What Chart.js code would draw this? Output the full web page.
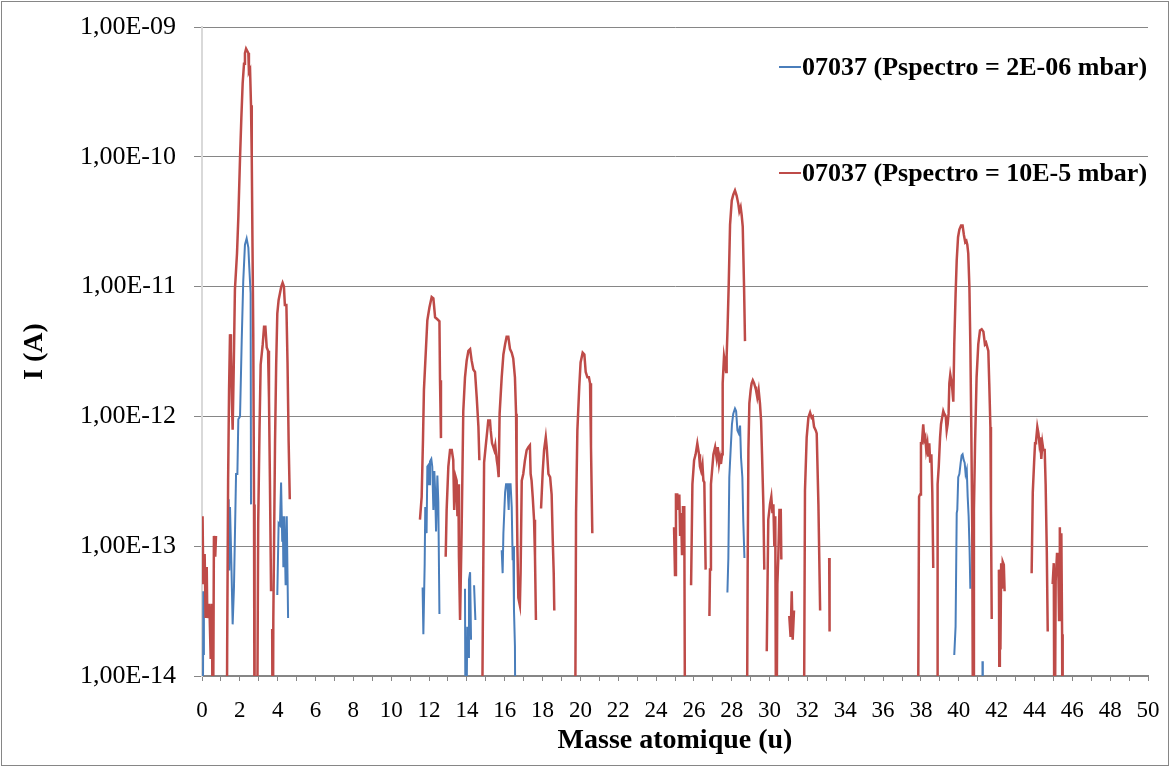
<!DOCTYPE html>
<html>
<head>
<meta charset="utf-8">
<script src="https://cdn.jsdelivr.net/npm/chart.js@4.4.1/dist/chart.umd.min.js"></script>
<style>
  html, body { margin:0; padding:0; background:#fff; }
  #wrap { width:1170px; height:767px; position:relative; }
</style>
</head>
<body>
<div id="wrap"><canvas id="spectre"></canvas></div>
<script>
// ═══════════════════════════════════════════════════════════
// Spectre de masse 07037 — deux pressions, échelle log
// ═══════════════════════════════════════════════════════════

const LABELS = ['07037 (Pspectro = 2E-06 mbar)', '07037 (Pspectro = 10E-5 mbar)'];
const DECADES = [1e-14, 1e-13, 1e-12, 1e-11, 1e-10, 1e-9];
const MASS_MIN = 0, MASS_MAX = 50;

// 1e-15 = sous l'axe (signal nul), null = pas de mesure
const blueMass = [
  0.03, 0.07, 0.10, 0.3,
  1.41, 1.44, 1.48, 1.55, 1.62, 1.69, 1.80, 1.87, 1.92, 2.01, 2.10, 2.18, 2.27, 2.36, 2.45, 2.50, 2.57, 2.59, 2.8,
  3.98, 4.05, 4.12, 4.18, 4.21, 4.24, 4.27, 4.30, 4.35, 4.42, 4.48, 4.55, 5.0,
  11.66, 11.70, 11.77, 11.80, 11.87, 11.91, 11.96, 12.00, 12.05, 12.12, 12.17, 12.23, 12.28, 12.33, 12.37, 12.44, 12.49, 12.55, 12.8,
  13.90, 13.94, 14.02, 14.08, 14.11, 14.17, 14.22, 14.3, 14.38, 14.45, 14.6,
  15.84, 15.89, 15.93, 16.02, 16.07, 16.14, 16.21, 16.24, 16.31, 16.37, 16.42, 16.45, 16.49, 16.54, 16.58, 17.0,
  27.77, 27.82, 27.87, 27.94, 28.01, 28.08, 28.17, 28.23, 28.30, 28.37, 28.44, 28.49, 28.56, 28.61, 28.67, 29.0,
  39.76, 39.83, 39.89, 39.92, 39.97, 40.03, 40.10, 40.15, 40.20, 40.26, 40.31, 40.36, 40.42, 40.47, 40.52, 40.57, 40.61, 40.9,
  41.25, 41.27
];
const blueCurrent = [
  1e-15, 4.5e-14, 1.45e-14, null,
  2.3e-13, 6.5e-14, 2.0e-13, 7.6e-14, 2.5e-14, 4.8e-14, 3.6e-13, 3.6e-13, 9.5e-13, 1.0e-12, 3.9e-12, 1.1e-11, 2.1e-11, 2.35e-11, 2.0e-11, 1.4e-11, 8.9e-12, 2.1e-13, null,
  4.2e-14, 1.5e-13, 1.45e-13, 3.1e-13, 3.1e-13, 1.1e-13, 1.7e-13, 6.9e-14, 1.7e-13, 5.0e-14, 1.7e-13, 2.8e-14, null,
  4.8e-14, 2.1e-14, 7.4e-14, 2.0e-13, 1.26e-13, 4.1e-13, 4.2e-13, 3.0e-13, 4.5e-13, 4.7e-13, 4.1e-13, 1.9e-13, 3.8e-13, 2.5e-13, 1.3e-13, 3.5e-13, 2.2e-13, 3.0e-14, null,
  4.7e-14, 1e-15, 2.4e-14, 1.4e-14, 5.5e-14, 6.3e-14, 1.9e-14, null, 5.0e-14, 2.7e-14, null,
  9.3e-14, 6.2e-14, 1.26e-13, 2.6e-13, 3.0e-13, 3.0e-13, 1.9e-13, 3.0e-13, 3.0e-13, 2.0e-13, 7.8e-14, 1.0e-13, 3.2e-14, 1.7e-14, 1e-15, null,
  4.4e-14, 8.1e-14, 3.4e-13, 5.5e-13, 8.7e-13, 1.05e-12, 1.15e-12, 1.1e-12, 7.8e-13, 7.4e-13, 8.5e-13, 4.8e-13, 3.4e-13, 1.55e-13, 8.1e-14, null,
  1.45e-14, 2.4e-14, 1.8e-13, 1.9e-13, 3.4e-13, 3.6e-13, 4.4e-13, 5.0e-13, 5.1e-13, 4.6e-13, 4.4e-13, 3.6e-13, 3.9e-13, 2.4e-13, 1.7e-13, 9.3e-14, 4.7e-14, null,
  1.3e-14, 1e-15
];

const redMass = [
  0.03, 0.07, 0.14, 0.19, 0.25, 0.28, 0.39, 0.46, 0.53, 0.57, 0.63, 0.70, 0.74, 0.9,
  1.30, 1.33, 1.38, 1.43, 1.48, 1.53, 1.58, 1.62, 1.68, 1.74, 1.85, 1.92, 2.01, 2.08, 2.15, 2.22, 2.27, 2.33, 2.40, 2.45, 2.48, 2.54, 2.59, 2.63, 2.67, 2.71, 2.75, 2.78,
  2.90, 2.97, 3.04, 3.10, 3.21, 3.28, 3.35, 3.42, 3.49, 3.54, 3.59, 3.65, 3.68, 3.71, 3.74,
  3.77, 3.86, 3.92, 3.98, 4.05, 4.12, 4.19, 4.26, 4.33, 4.38, 4.46, 4.52, 4.58, 4.64, 4.8,
  11.52, 11.61, 11.68, 11.73, 11.84, 11.91, 12.02, 12.14, 12.23, 12.32, 12.44, 12.55, 12.58, 12.63, 12.75,
  12.88, 12.93, 13.02, 13.11, 13.20, 13.28, 13.33, 13.41, 13.46, 13.50, 13.55, 13.58, 13.64, 13.66, 13.72, 13.81, 13.90, 13.99, 14.08, 14.17, 14.25, 14.34, 14.43, 14.52, 14.61, 14.66, 14.72,
  14.78, 14.84, 14.91, 15.01, 15.08, 15.13, 15.22, 15.26, 15.33, 15.40, 15.45, 15.50, 15.58, 15.63, 15.68, 15.73, 15.84, 15.93, 16.02, 16.10, 16.19, 16.28, 16.37, 16.45, 16.54, 16.60, 16.63, 16.67, 16.72,
  16.80, 16.84, 16.90, 16.98, 17.07, 17.16, 17.25, 17.33, 17.37, 17.42, 17.48, 17.55, 17.60, 17.65, 17.8,
  17.92, 18.01, 18.08, 18.17, 18.22, 18.31, 18.40, 18.48, 18.54, 18.59, 18.62, 18.8,
  19.71, 19.77, 19.84, 19.94, 20.01, 20.12, 20.21, 20.28, 20.37, 20.45, 20.51, 20.56, 20.63, 20.8,
  24.95, 25.00, 25.05, 25.12, 25.18, 25.23, 25.27, 25.32, 25.37, 25.42, 25.49, 25.54, 25.7,
  25.85, 25.92, 26.01, 26.09, 26.18, 26.27, 26.32, 26.38, 26.45, 26.50, 26.55, 26.62, 26.72,
  26.82, 26.85, 26.90, 27.03, 27.12, 27.20, 27.26, 27.33, 27.38, 27.43, 27.49, 27.52, 27.59, 27.64, 27.70, 27.73, 27.78, 27.84, 27.91, 28.00, 28.08, 28.17, 28.26, 28.35, 28.40, 28.47, 28.52, 28.58, 28.65, 28.70, 28.75,
  28.79, 28.84, 28.88, 28.93, 29.00, 29.05, 29.11, 29.18, 29.23, 29.28, 29.35, 29.42, 29.49, 29.55, 29.60, 29.67, 29.72, 29.78,
  29.85, 29.93, 30.02, 30.09, 30.15, 30.20, 30.25, 30.30, 30.35, 30.41, 30.46, 30.52, 30.59, 30.62, 30.8,
  31.04, 31.11, 31.17, 31.22, 31.29, 31.5,
  31.80, 31.87, 31.96, 32.05, 32.14, 32.22, 32.28, 32.35, 32.44, 32.49, 32.58, 32.67, 32.9,
  33.15, 33.17, 33.5,
  37.83, 37.90, 37.95, 38.00, 38.05, 38.12, 38.18, 38.23, 38.28, 38.34, 38.39, 38.44, 38.49, 38.55, 38.60, 38.65, 38.75,
  38.85, 38.88, 38.94, 39.01, 39.06, 39.13, 39.18, 39.23, 39.31, 39.36, 39.41, 39.46, 39.50, 39.55, 39.60, 39.66, 39.71, 39.76, 39.83, 39.89, 39.96, 40.03, 40.12, 40.20, 40.27, 40.34, 40.40, 40.45, 40.50, 40.56, 40.61, 40.66, 40.71, 40.76,
  40.80, 40.86, 40.94, 41.03, 41.12, 41.21, 41.30, 41.38, 41.44, 41.51, 41.56, 41.61, 41.67, 41.70, 41.74, 41.9,
  42.12, 42.14, 42.17, 42.20, 42.24, 42.28, 42.32, 42.38, 42.42, 42.6,
  43.85, 43.91, 43.98, 44.03, 44.08, 44.15, 44.21, 44.26, 44.31, 44.36, 44.42, 44.47, 44.54, 44.59, 44.65, 44.70, 44.8,
  44.96, 45.02, 45.06, 45.12, 45.19, 45.25, 45.30, 45.34, 45.38, 45.42, 45.46, 45.49
];
const redCurrent = [
  1.7e-13, 5.1e-14, 8.7e-14, 2.8e-14, 6.9e-14, 2.8e-14, 3.6e-14, 1.35e-14, 3.6e-14, 1e-15, 1.2e-13, 8.3e-14, 1.2e-13, null,
  1e-15, 1.6e-14, 3.2e-13, 1.6e-12, 4.3e-12, 3.2e-12, 1.3e-12, 7.9e-13, 2.5e-12, 9.5e-12, 1.8e-11, 3.4e-11, 9.8e-11, 2.0e-10, 3.7e-10, 5.2e-10, 6.3e-10, 6.8e-10, 6.5e-10, 6.3e-10, 4.5e-10, 4.7e-10, 2.5e-10, 9.8e-11, 2.0e-11, 4.3e-12, 2.1e-13, 1e-15,
  1e-15, 1.5e-13, 7.9e-13, 2.5e-12, 3.6e-12, 4.9e-12, 4.9e-12, 3.4e-12, 3.2e-12, 1.4e-12, 3.2e-13, 4.5e-14, null, 2.3e-14, 1e-15,
  2.8e-14, 6.3e-13, 2.5e-12, 6.2e-12, 7.9e-12, 8.9e-12, 1.0e-11, 1.07e-11, 1.0e-11, 7.2e-12, 7.2e-12, 2.6e-12, 6.3e-13, 2.3e-13, null,
  1.6e-13, 2.4e-13, 6.6e-13, 1.6e-12, 3.4e-12, 5.5e-12, 6.9e-12, 8.3e-12, 8.1e-12, 5.8e-12, 5.6e-12, 5.4e-12, 1.9e-12, 6.8e-13, null,
  8.3e-14, 1.9e-13, 4.1e-13, 5.5e-13, 5.5e-13, 4.6e-13, 1.9e-13, 3.4e-13, 3.2e-13, 1.7e-13, 3.0e-13, 8.3e-14, 2.7e-14, 2.7e-14, 1.26e-13, 1.1e-12, 2.0e-12, 2.7e-12, 3.2e-12, 3.3e-12, 2.7e-12, 2.3e-12, 2.2e-12, 1.4e-12, 8.3e-13, 4.6e-13, null,
  1e-15, 2.2e-14, 4.4e-13, 6.2e-13, 7.8e-13, 9.3e-13, 9.3e-13, 7.8e-13, 6.2e-13, 5.8e-13, 5.5e-13, 6.0e-13, 4.6e-13, 4.1e-13, 3.4e-13, 1.05e-12, 2.0e-12, 3.0e-12, 3.6e-12, 4.1e-12, 4.1e-12, 3.3e-12, 3.1e-12, 2.8e-12, 2.0e-12, 1.05e-12, 3.2e-13, 1.0e-13, 4.0e-14,
  3.5e-14, 6.3e-14, 3.2e-13, 3.6e-13, 4.6e-13, 5.5e-13, 5.8e-13, 6.0e-13, 3.6e-13, 3.2e-13, 2.4e-13, 1.6e-13, 8.3e-14, 2.7e-14, null,
  1.95e-13, 3.8e-13, 5.5e-13, 6.9e-13, 5.8e-13, 3.6e-13, 3.4e-13, 2.5e-13, 1.1e-13, 6.2e-14, 3.2e-14, null,
  1e-15, 1.8e-13, 7.8e-13, 1.7e-12, 2.6e-12, 3.1e-12, 3.0e-12, 2.2e-12, 2.0e-12, 2.0e-12, 1.8e-12, 5.8e-13, 1.26e-13, null,
  1.4e-13, 6.0e-14, 2.5e-13, 2.5e-13, 1.9e-13, 2.5e-13, 1.2e-13, 1.8e-13, 8.7e-14, 2.0e-13, 2.0e-13, 1e-15, null,
  5.0e-14, 3.0e-13, 4.6e-13, 5.1e-13, 6.2e-13, 5.1e-13, 4.1e-13, 3.8e-13, 4.3e-13, 3.2e-13, 3.1e-13, 6.6e-14, null,
  2.9e-14, 6.6e-14, 3.0e-13, 5.1e-13, 5.8e-13, 4.8e-13, 5.8e-13, 4.3e-13, 4.8e-13, 4.3e-13, 5.1e-13, 1.8e-12, 2.9e-12, 2.6e-12, 2.2e-12, 2.9e-12, 4.9e-12, 1.05e-11, 3.0e-11, 4.6e-11, 5.1e-11, 5.5e-11, 5.0e-11, 4.3e-11, 3.8e-11, 4.1e-11, 3.6e-11, 2.9e-11, 1.0e-11, 3.8e-12, null,
  1e-15, 6.6e-14, 5.5e-13, 1.26e-12, 1.6e-12, 1.8e-12, 1.9e-12, 1.8e-12, 1.7e-12, 1.6e-12, 1.4e-12, 1.6e-12, 1.26e-12, 9.3e-13, 5.1e-13, 2.1e-13, 6.6e-14, null,
  1.55e-14, 1.6e-13, 2.1e-13, 2.4e-13, 1.8e-13, 2.1e-13, 1.0e-13, 1.7e-13, 1e-15, 5.1e-14, 8.3e-14, 1.9e-13, 1.9e-13, 7.9e-14, null,
  2.9e-14, 2.0e-14, 4.5e-14, 1.9e-14, 3.2e-14, null,
  1e-15, 2.7e-13, 6.9e-13, 9.8e-13, 1.07e-12, 9.8e-13, 1.0e-12, 8.3e-13, 7.8e-13, 7.4e-13, 2.1e-13, 3.2e-14, null,
  8.1e-14, 2.2e-14, null,
  1e-15, 2.4e-13, 2.5e-13, 6.2e-13, 6.2e-13, 8.7e-13, 6.6e-13, 6.9e-13, 5.5e-13, 6.2e-13, 4.9e-13, 6.2e-13, 4.4e-13, 5.1e-13, 2.6e-13, 6.8e-14, null,
  1e-15, 3.0e-13, 4.1e-13, 6.9e-13, 8.7e-13, 1.0e-12, 1.1e-12, 1.05e-12, 1.0e-12, 7.8e-13, 8.7e-13, 1.05e-12, 1.8e-12, 2.1e-12, 1.9e-12, 1.6e-12, 1.3e-12, 3.6e-12, 8.7e-12, 1.6e-11, 2.4e-11, 2.75e-11, 2.95e-11, 2.95e-11, 2.5e-11, 2.2e-11, 2.25e-11, 2.1e-11, 1.8e-11, 1.0e-11, 3.6e-12, 8.3e-13, 1.4e-13, 1e-15,
  1.9e-13, 6.2e-13, 2.0e-12, 3.6e-12, 4.6e-12, 4.7e-12, 4.5e-12, 3.6e-12, 3.7e-12, 3.4e-12, 3.2e-12, 1.8e-12, 8.3e-13, 1.9e-13, 2.75e-14, null,
  6.6e-14, 1.2e-14, 6.6e-14, 1.6e-14, 7.4e-14, 4.7e-14, 7.6e-14, 7.2e-14, 4.5e-14, null,
  6.2e-14, 2.6e-13, 4.4e-13, 6.2e-13, 6.4e-13, 8.3e-13, 7.4e-13, 6.2e-13, 6.9e-13, 4.7e-13, 6.2e-13, 5.5e-13, 5.5e-13, 3.0e-13, 9.3e-14, 2.2e-14, null,
  5.1e-14, 7.4e-14, 1e-15, 5.4e-14, 8.7e-14, 8.7e-14, 2.7e-14, 1.4e-13, 3.8e-14, 1.26e-13, 2.1e-14, 1e-15
];

const BLEU   = '#4A7EBB';
const ROUGE  = '#BE4B48';
const GRILLE = '#868686';
const SERIF  = '"Liberation Serif", "Times New Roman", serif';

Chart.defaults.font.family = SERIF;
Chart.defaults.color = '#000';

function _points(xs, ys) {
  return xs.map((x, i) => ({ x, y: ys[i] }));
}

// 1e-9 -> "1,00E-09"
function _fmtExp(v) {
  const [m, e] = Number(v).toExponential(2).split('e');
  const n = Math.abs(+e);
  return m.replace('.', ',') + 'E' + (+e < 0 ? '-' : '+') + String(n).padStart(2, '0');
}

// cadre gris + légende dans la zone de tracé
const cadreLegende = {
  id: 'cadreLegende',
  afterDraw(chart) {
    const c = chart.ctx;
    c.save();
    c.strokeStyle = GRILLE; c.lineWidth = 1;
    c.strokeRect(1.5, 1.5, chart.width - 3, chart.height - 3);
    const rows = [67, 173];
    c.font = 'bold 26px ' + SERIF;
    c.textBaseline = 'middle';
    c.textAlign = 'left';
    chart.data.datasets.forEach((ds, i) => {
      const y = rows[i];
      c.strokeStyle = ds.borderColor; c.lineWidth = 2;
      c.beginPath(); c.moveTo(779, y); c.lineTo(801, y); c.stroke();
      c.fillStyle = '#000';
      c.fillText(ds.label, 802, y + 1);
    });
    c.restore();
  }
};

new Chart(document.getElementById('spectre'), {
  type: 'line',
  data: { datasets: [
    { label: LABELS[0], data: _points(blueMass, blueCurrent), borderColor: BLEU, borderWidth: 2, order: 2 },
    { label: LABELS[1], data: _points(redMass, redCurrent),   borderColor: ROUGE, borderWidth: 2.5, order: 1 },
  ]},
  options: {
    responsive: true, maintainAspectRatio: false, animation: false,
    spanGaps: false,
    elements: { point: { radius: 0 }, line: { tension: 0 } },
    layout: { padding: { left: 14, right: 22, top: 27, bottom: 5 } },
    plugins: { legend: { display: false }, tooltip: { enabled: false } },
    scales: {
      x: {
        type: 'linear', min: MASS_MIN, max: MASS_MAX,
        afterBuildTicks: s => { s.ticks = []; for (let m = MASS_MIN; m <= MASS_MAX; m++) s.ticks.push({ value: m }); },
        // zone de tracé fixe : pas de marge ajoutée pour les étiquettes
        afterFit: s => { s.height = 86; s.paddingLeft = 0; s.paddingRight = 0; },
        ticks: { autoSkip: false, maxRotation: 0, padding: 16, font: { size: 23 },
          callback: v => (v % 2 === 0 ? String(v) : '') },
        grid: { drawOnChartArea: false, color: GRILLE, tickLength: 5 },
        border: { color: GRILLE, width: 2 },
        title: { display: true, text: 'Masse atomique (u)', font: { size: 28, weight: 'bold' } }
      },
      y: {
        type: 'logarithmic', min: DECADES[0], max: DECADES[DECADES.length - 1],
        afterBuildTicks: s => { s.ticks = DECADES.map(v => ({ value: v })); },
        afterFit: s => { s.width = 188; s.paddingTop = 0; s.paddingBottom = 0; },
        ticks: { padding: 18, font: { size: 26 }, callback: v => _fmtExp(v) },
        grid: { color: GRILLE, lineWidth: 1, tickLength: 8 },
        border: { color: '#D9D9D9', width: 2 },
        title: { display: true, text: 'I (A)', font: { size: 28, weight: 'bold' } }
      }
    }
  },
  plugins: [cadreLegende]
});
</script>
</body>
</html>
